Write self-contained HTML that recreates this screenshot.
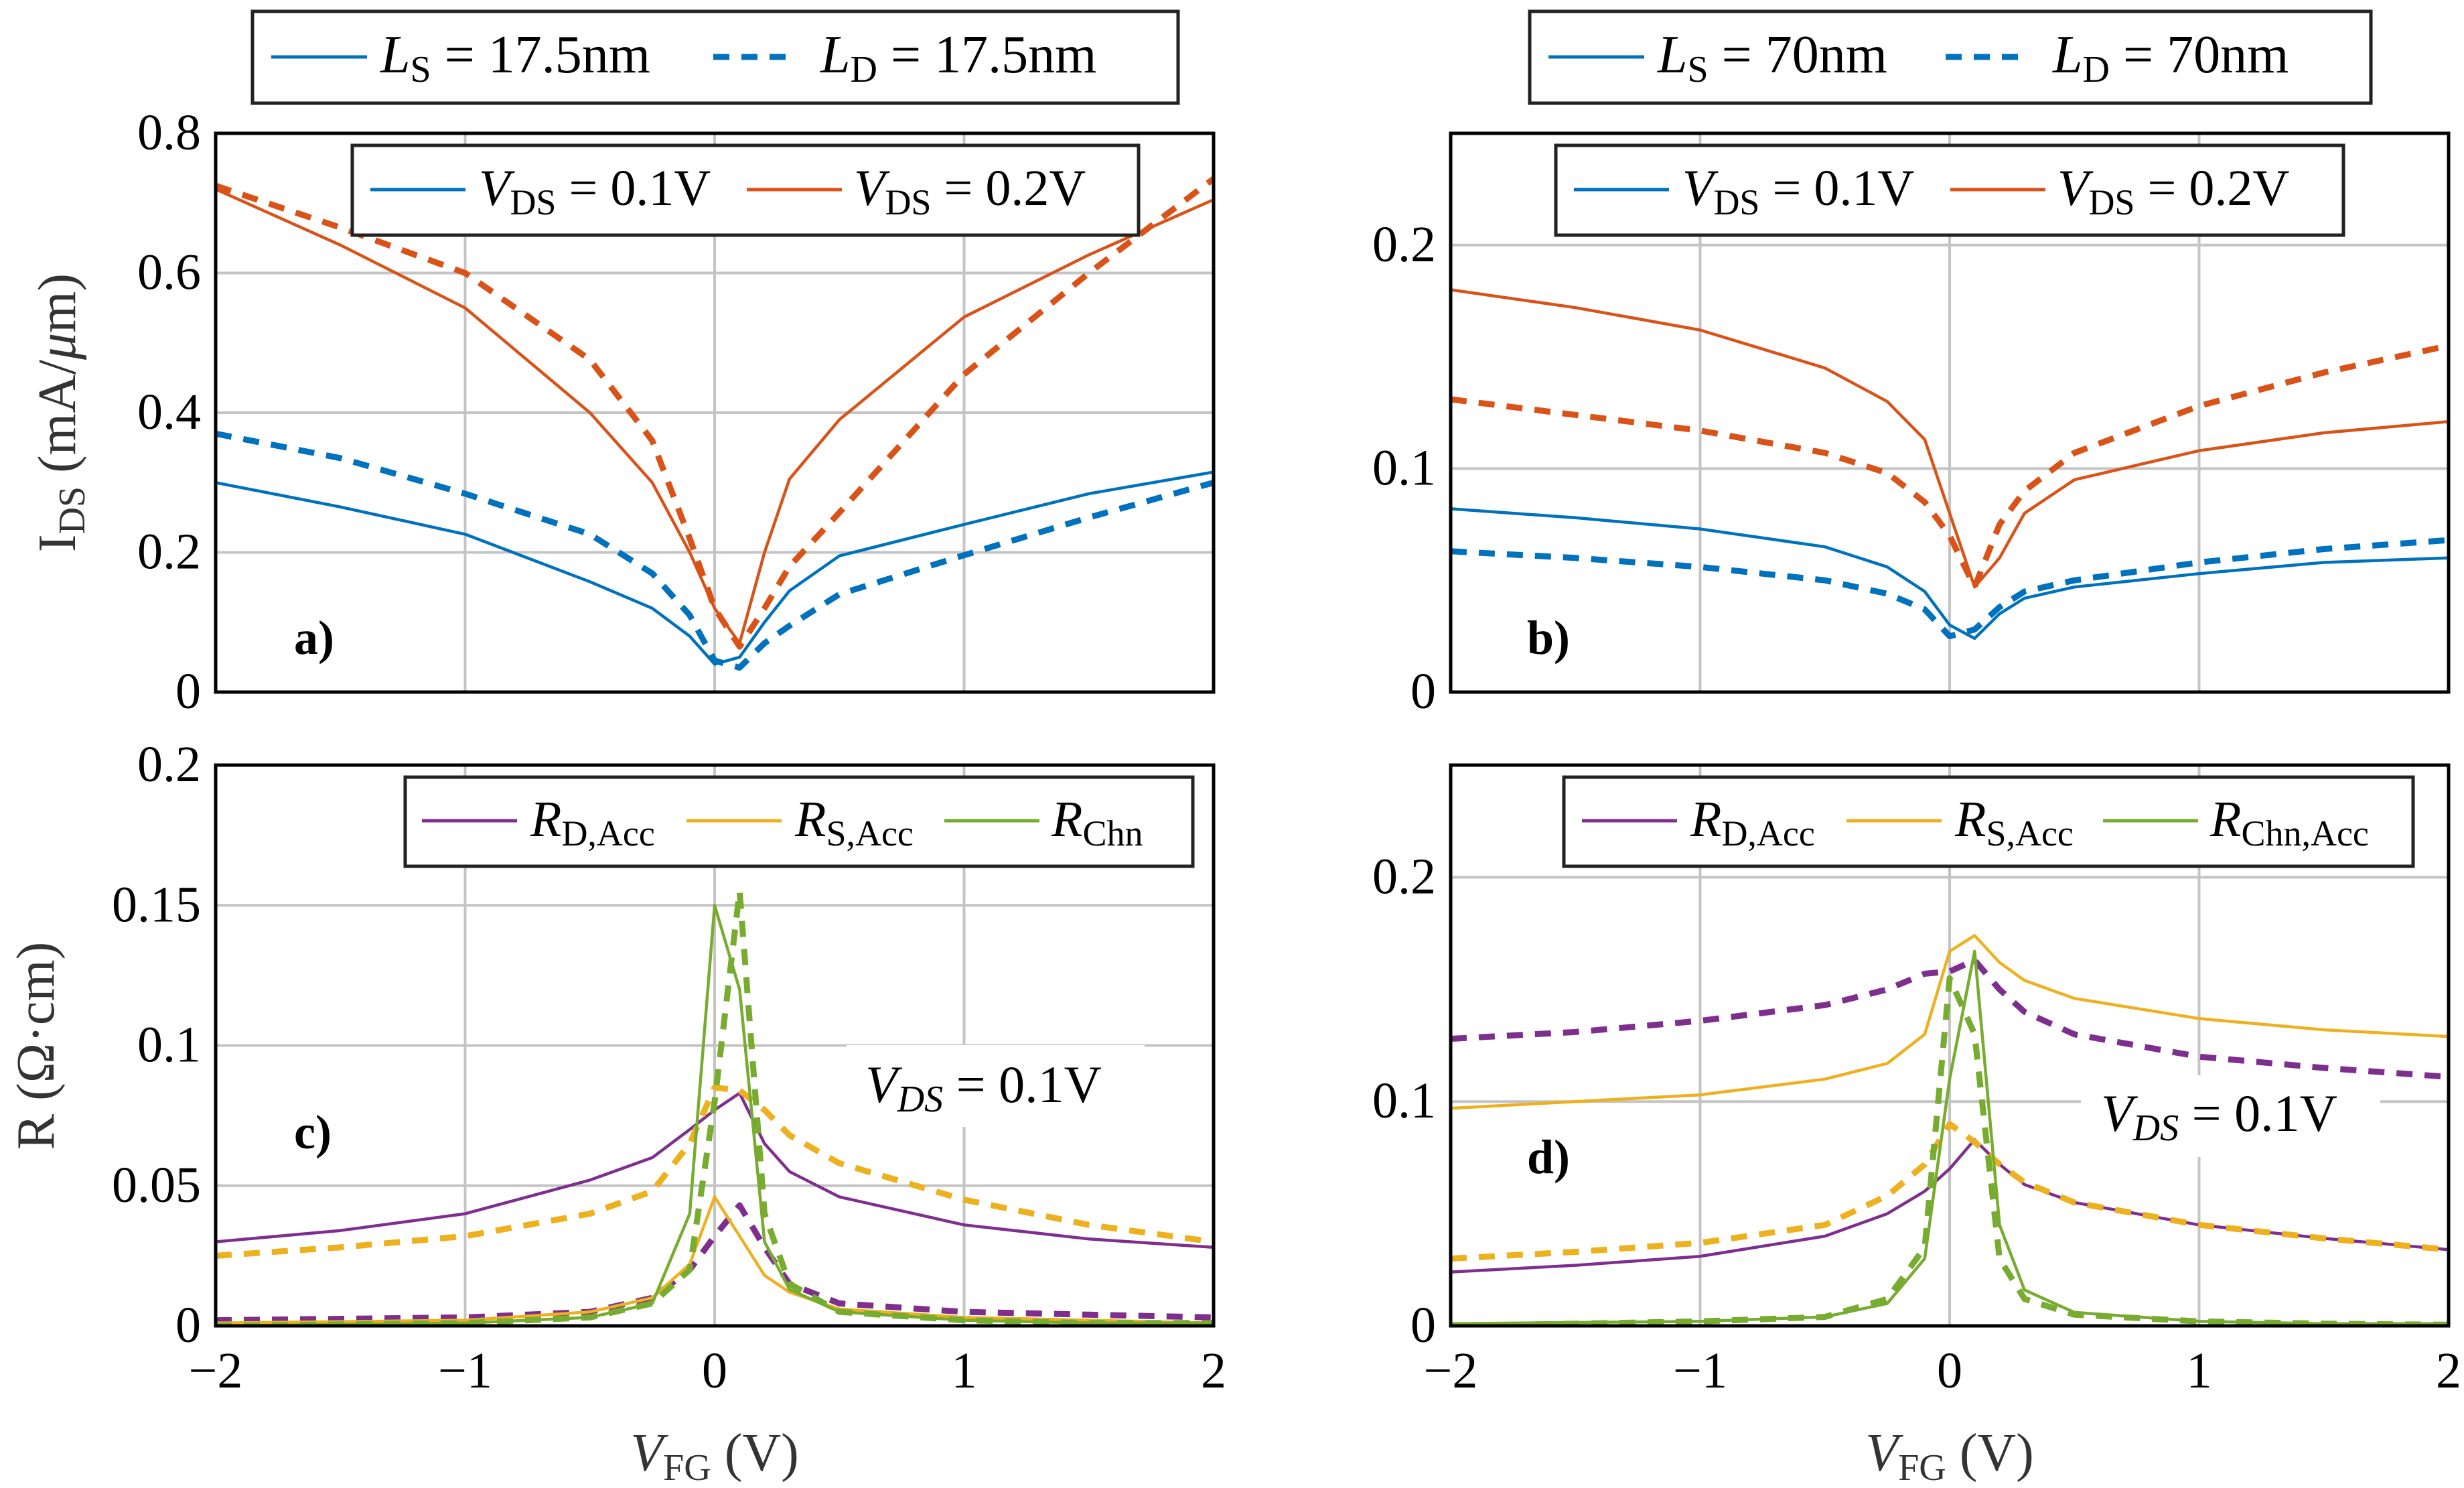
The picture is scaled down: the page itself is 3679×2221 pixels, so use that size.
<!DOCTYPE html>
<html><head><meta charset="utf-8">
<style>
html,body{margin:0;padding:0;background:#fff;}
svg{display:block;font-family:"Liberation Serif",serif;}
svg text{font-family:"Liberation Serif",serif;}
</style></head>
<body>
<svg id="chart" width="3679" height="2221" viewBox="0 0 3679 2221" xmlns="http://www.w3.org/2000/svg"></svg>
<script>
// ---------- data ----------
const xVals = [-2,-1.5,-1,-0.5,-0.25,-0.1,0,0.1,0.2,0.3,0.5,1,1.5,2];
const xTicks = [-2,-1,0,1,2];
const xTickLabels = ["\u22122","\u22121","0","1","2"];
// panel a
const aBlueSolid  = [0.30,0.265,0.226,0.158,0.12,0.08,0.04,0.05,0.10,0.145,0.195,0.24,0.284,0.315];
const aBlueDash   = [0.37,0.335,0.284,0.226,0.17,0.11,0.045,0.035,0.07,0.095,0.14,0.196,0.25,0.30];
const aOrgSolid   = [0.72,0.64,0.55,0.40,0.30,0.20,0.12,0.07,0.20,0.305,0.39,0.537,0.626,0.705];
const aOrgDash    = [0.725,0.665,0.60,0.476,0.36,0.22,0.12,0.065,0.12,0.18,0.257,0.455,0.60,0.735];
const aYTicks = [0,0.2,0.4,0.6,0.8];
const aYTickLabels = ["0","0.2","0.4","0.6","0.8"];
// panel b
const bOrgSolid  = [0.180,0.172,0.162,0.145,0.13,0.113,0.08,0.047,0.06,0.08,0.095,0.108,0.116,0.121];
const bOrgDash   = [0.131,0.124,0.117,0.107,0.098,0.085,0.07,0.047,0.075,0.09,0.107,0.128,0.143,0.155];
const bBlueSolid = [0.082,0.078,0.073,0.065,0.056,0.045,0.03,0.024,0.035,0.042,0.047,0.053,0.058,0.060];
const bBlueDash  = [0.063,0.060,0.056,0.050,0.044,0.037,0.025,0.028,0.038,0.045,0.050,0.058,0.064,0.068];
const bYTicks = [0,0.1,0.2];
const bYTickLabels = ["0","0.1","0.2"];
// panel c
const cPurSolid = [0.030,0.034,0.040,0.052,0.060,0.070,0.077,0.083,0.065,0.055,0.046,0.036,0.031,0.028];
const cPurDash  = [0.002,0.0025,0.003,0.005,0.010,0.020,0.032,0.043,0.028,0.015,0.008,0.005,0.004,0.003];
const cYelSolid = [0.001,0.0015,0.002,0.005,0.010,0.022,0.046,0.032,0.018,0.012,0.006,0.003,0.002,0.001];
const cYelDash  = [0.025,0.028,0.032,0.040,0.048,0.065,0.085,0.084,0.077,0.068,0.058,0.045,0.036,0.030];
const cGrnSolid = [0.0,0.0005,0.001,0.003,0.008,0.040,0.150,0.120,0.030,0.013,0.005,0.002,0.001,0.001];
const cGrnDash  = [0.0,0.0005,0.001,0.003,0.008,0.020,0.080,0.155,0.040,0.015,0.005,0.002,0.001,0.001];
const cYTicks = [0,0.05,0.1,0.15,0.2];
const cYTickLabels = ["0","0.05","0.1","0.15","0.2"];
// panel d
const dYelSolid = [0.097,0.100,0.103,0.110,0.117,0.130,0.167,0.174,0.162,0.154,0.146,0.137,0.132,0.129];
const dPurDash  = [0.128,0.131,0.136,0.143,0.150,0.157,0.158,0.163,0.150,0.140,0.130,0.120,0.115,0.111];
const dPurSolid = [0.024,0.027,0.031,0.040,0.050,0.060,0.070,0.083,0.072,0.063,0.055,0.045,0.039,0.034];
const dYelDash  = [0.030,0.033,0.037,0.045,0.058,0.072,0.090,0.082,0.072,0.064,0.055,0.045,0.039,0.034];
const dGrnSolid = [0.001,0.0015,0.002,0.004,0.010,0.030,0.110,0.167,0.045,0.016,0.006,0.002,0.001,0.001];
const dGrnDash  = [0.0,0.001,0.002,0.004,0.012,0.035,0.155,0.130,0.030,0.012,0.005,0.002,0.001,0.0005];
const dYTicks = [0,0.1,0.2];
const dYTickLabels = ["0","0.1","0.2"];

// ---------- drawing ----------
const NS = "http://www.w3.org/2000/svg";
const svg = document.getElementById('chart');
const FONT = '"Liberation Serif", serif';
const BLUE="#0072BD", ORG="#D95319", PUR="#7E2F8E", YEL="#EDB120", GRN="#77AC30";
function mk(tag, attrs, parent){
  const e=document.createElementNS(NS,tag);
  for(const k in attrs) e.setAttribute(k,attrs[k]);
  (parent||svg).appendChild(e);
  return e;
}
function panel(name, box, ymax, yTicks, yTickLabels, showX, series){
  const g=mk('g',{});
  
  
  const sx=v=>box.x0+(v+2)/4*(box.x1-box.x0);
  const sy=v=>box.y1-v/ymax*(box.y1-box.y0);
  xTicks.forEach(t=>{
    const l=mk('line',{x1:sx(t),x2:sx(t),y1:box.y0,y2:box.y1,stroke:"#c4c4c4","stroke-width":4},g);
    
    
  });
  yTicks.forEach((t,i)=>{
    const l=mk('line',{x1:box.x0,x2:box.x1,y1:sy(t),y2:sy(t),stroke:"#c4c4c4","stroke-width":4},g);
    
    
    const tx=mk('text',{x:box.x0-22,y:sy(t)+24,"text-anchor":"end","font-size":76,fill:"#000","font-family":FONT},g);
    tx.textContent=yTickLabels[i];
    
    
  });
  if(showX){
    xTicks.forEach((t,i)=>{
      const tx=mk('text',{x:sx(t),y:box.y1+92,"text-anchor":"middle","font-size":76,fill:"#000","font-family":FONT},g);
      tx.textContent=xTickLabels[i];
      
      
    });
  }
  const cg=mk('g',{},g);
  cg.setAttribute('clip-path','url(#clip-'+name+')');
  const cp=mk('clipPath',{id:'clip-'+name});
  mk('rect',{x:box.x0,y:box.y0,width:box.x1-box.x0,height:box.y1-box.y0},cp);
  series.forEach(s=>{
    const d=xVals.map((x,i)=>(i?'L':'M')+sx(x).toFixed(1)+','+sy(s.v[i]).toFixed(1)).join('');
    const p=mk('path',{d:d,fill:"none",stroke:s.c,"stroke-width":s.dash?9:4.5,"stroke-linejoin":"round"},cg);
    if(s.dash) p.setAttribute('stroke-dasharray','24 18');
    
    
  });
  const fr=mk('rect',{x:box.x0,y:box.y0,width:box.x1-box.x0,height:box.y1-box.y0,fill:"none",stroke:"#000","stroke-width":5},g);
  
  
  return g;
}
const A={x0:322,x1:1812,y0:199,y1:1033};
const B={x0:2166,x1:3656,y0:199,y1:1033};
const C={x0:322,x1:1812,y0:1142,y1:1979};
const D={x0:2166,x1:3656,y0:1142,y1:1979};
panel('panel-a',A,0.8,aYTicks,aYTickLabels,false,[
  {v:aBlueSolid,c:BLUE,n:'a-vds01-ls'},{v:aBlueDash,c:BLUE,dash:1,n:'a-vds01-ld'},
  {v:aOrgSolid,c:ORG,n:'a-vds02-ls'},{v:aOrgDash,c:ORG,dash:1,n:'a-vds02-ld'}]);
panel('panel-b',B,0.25,bYTicks,bYTickLabels,false,[
  {v:bBlueSolid,c:BLUE,n:'b-vds01-ls'},{v:bBlueDash,c:BLUE,dash:1,n:'b-vds01-ld'},
  {v:bOrgSolid,c:ORG,n:'b-vds02-ls'},{v:bOrgDash,c:ORG,dash:1,n:'b-vds02-ld'}]);
panel('panel-c',C,0.2,cYTicks,cYTickLabels,true,[
  {v:cPurSolid,c:PUR,n:'c-rd-ls'},{v:cPurDash,c:PUR,dash:1,n:'c-rd-ld'},
  {v:cYelSolid,c:YEL,n:'c-rs-ls'},{v:cYelDash,c:YEL,dash:1,n:'c-rs-ld'},
  {v:cGrnSolid,c:GRN,n:'c-rchn-ls'},{v:cGrnDash,c:GRN,dash:1,n:'c-rchn-ld'}]);
panel('panel-d',D,0.25,dYTicks,dYTickLabels,true,[
  {v:dPurSolid,c:PUR,n:'d-rd-ls'},{v:dPurDash,c:PUR,dash:1,n:'d-rd-ld'},
  {v:dYelSolid,c:YEL,n:'d-rs-ls'},{v:dYelDash,c:YEL,dash:1,n:'d-rs-ld'},
  {v:dGrnSolid,c:GRN,n:'d-rchn-ls'},{v:dGrnDash,c:GRN,dash:1,n:'d-rchn-ld'}]);
</script>
<svg width="3679" height="2221" style="position:absolute;left:0;top:0" font-family="'Liberation Serif', serif">
  <g>
    <rect x="377" y="17" width="1382" height="137" fill="#fff" stroke="#222" stroke-width="5"/>
    <line x1="405" y1="85" x2="548" y2="85" stroke="#0072BD" stroke-width="5"/>
    <text x="568" y="108" font-size="80"><tspan font-style="italic">L</tspan><tspan font-size="56" dy="14">S</tspan><tspan dy="-14"> = 17.5nm</tspan></text>
    <line x1="1065" y1="85" x2="1190" y2="85" stroke="#0072BD" stroke-width="9" stroke-dasharray="24 18"/>
    <text x="1225" y="108" font-size="80"><tspan font-style="italic">L</tspan><tspan font-size="56" dy="14">D</tspan><tspan dy="-14"> = 17.5nm</tspan></text>
  </g>
  <g>
    <rect x="2284" y="17" width="1256" height="137" fill="#fff" stroke="#222" stroke-width="5"/>
    <line x1="2312" y1="85" x2="2455" y2="85" stroke="#0072BD" stroke-width="5"/>
    <text x="2475" y="108" font-size="80"><tspan font-style="italic">L</tspan><tspan font-size="56" dy="14">S</tspan><tspan dy="-14"> = 70nm</tspan></text>
    <line x1="2905" y1="85" x2="3030" y2="85" stroke="#0072BD" stroke-width="9" stroke-dasharray="24 18"/>
    <text x="3065" y="108" font-size="80"><tspan font-style="italic">L</tspan><tspan font-size="56" dy="14">D</tspan><tspan dy="-14"> = 70nm</tspan></text>
  </g>
  <g>
    <rect x="526" y="217" width="1174" height="134" fill="#fff" stroke="#222" stroke-width="5"/>
    <line x1="553" y1="283" x2="695" y2="283" stroke="#0072BD" stroke-width="5"/>
    <text x="715" y="306" font-size="76"><tspan font-style="italic">V</tspan><tspan font-size="54" dy="14">DS</tspan><tspan dy="-14"> = 0.1V</tspan></text>
    <line x1="1115" y1="283" x2="1257" y2="283" stroke="#D95319" stroke-width="5"/>
    <text x="1275" y="306" font-size="76"><tspan font-style="italic">V</tspan><tspan font-size="54" dy="14">DS</tspan><tspan dy="-14"> = 0.2V</tspan></text>
  </g>
  <g>
    <rect x="2323" y="217" width="1176" height="134" fill="#fff" stroke="#222" stroke-width="5"/>
    <line x1="2350" y1="283" x2="2492" y2="283" stroke="#0072BD" stroke-width="5"/>
    <text x="2512" y="306" font-size="76"><tspan font-style="italic">V</tspan><tspan font-size="54" dy="14">DS</tspan><tspan dy="-14"> = 0.1V</tspan></text>
    <line x1="2912" y1="283" x2="3054" y2="283" stroke="#D95319" stroke-width="5"/>
    <text x="3072" y="306" font-size="76"><tspan font-style="italic">V</tspan><tspan font-size="54" dy="14">DS</tspan><tspan dy="-14"> = 0.2V</tspan></text>
  </g>
  <g>
    <rect x="605" y="1160" width="1176" height="133" fill="#fff" stroke="#222" stroke-width="5"/>
    <line x1="630" y1="1225" x2="772" y2="1225" stroke="#7E2F8E" stroke-width="5"/>
    <text x="792" y="1248" font-size="76"><tspan font-style="italic">R</tspan><tspan font-size="54" dy="14">D,Acc</tspan></text>
    <line x1="1025" y1="1225" x2="1167" y2="1225" stroke="#EDB120" stroke-width="5"/>
    <text x="1187" y="1248" font-size="76"><tspan font-style="italic">R</tspan><tspan font-size="54" dy="14">S,Acc</tspan></text>
    <line x1="1410" y1="1225" x2="1552" y2="1225" stroke="#77AC30" stroke-width="5"/>
    <text x="1570" y="1248" font-size="76"><tspan font-style="italic">R</tspan><tspan font-size="54" dy="14">Chn</tspan></text>
  </g>
  <g>
    <rect x="2335" y="1160" width="1268" height="133" fill="#fff" stroke="#222" stroke-width="5"/>
    <line x1="2362" y1="1225" x2="2504" y2="1225" stroke="#7E2F8E" stroke-width="5"/>
    <text x="2524" y="1248" font-size="76"><tspan font-style="italic">R</tspan><tspan font-size="54" dy="14">D,Acc</tspan></text>
    <line x1="2757" y1="1225" x2="2899" y2="1225" stroke="#EDB120" stroke-width="5"/>
    <text x="2919" y="1248" font-size="76"><tspan font-style="italic">R</tspan><tspan font-size="54" dy="14">S,Acc</tspan></text>
    <line x1="3140" y1="1225" x2="3282" y2="1225" stroke="#77AC30" stroke-width="5"/>
    <text x="3300" y="1248" font-size="76"><tspan font-style="italic">R</tspan><tspan font-size="54" dy="14">Chn,Acc</tspan></text>
  </g>
  <text x="439" y="976" font-size="72" font-weight="bold">a)</text>
  <text x="2280" y="976" font-size="72" font-weight="bold">b)</text>
  <text x="439" y="1714" font-size="72" font-weight="bold">c)</text>
  <text x="2280" y="1751" font-size="72" font-weight="bold">d)</text>
  <g>
    <rect x="1264" y="1560" width="445" height="122" fill="#fff"/>
    <text x="1292" y="1645" font-size="78"><tspan font-style="italic">V</tspan><tspan font-size="56" font-style="italic" dy="14">DS</tspan><tspan dy="-14"> = 0.1V</tspan></text>
  </g>
  <g>
    <rect x="3107" y="1605" width="447" height="122" fill="#fff"/>
    <text x="3137" y="1688" font-size="78"><tspan font-style="italic">V</tspan><tspan font-size="56" font-style="italic" dy="14">DS</tspan><tspan dy="-14"> = 0.1V</tspan></text>
  </g>
  <text transform="translate(112,616) rotate(-90)" text-anchor="middle" font-size="80" fill="#333">I<tspan font-size="56" dy="14">DS</tspan><tspan dy="-14"> (mA/</tspan><tspan font-style="italic">μ</tspan>m)</text>
  <text transform="translate(80,1561) rotate(-90)" text-anchor="middle" font-size="80" fill="#333">R (Ω·cm)</text>
  <text x="1067" y="2195" text-anchor="middle" font-size="80" fill="#333"><tspan font-style="italic">V</tspan><tspan font-size="56" dy="14">FG</tspan><tspan dy="-14"> (V)</tspan></text>
  <text x="2911" y="2195" text-anchor="middle" font-size="80" fill="#333"><tspan font-style="italic">V</tspan><tspan font-size="56" dy="14">FG</tspan><tspan dy="-14"> (V)</tspan></text>
</svg>
</body></html>
